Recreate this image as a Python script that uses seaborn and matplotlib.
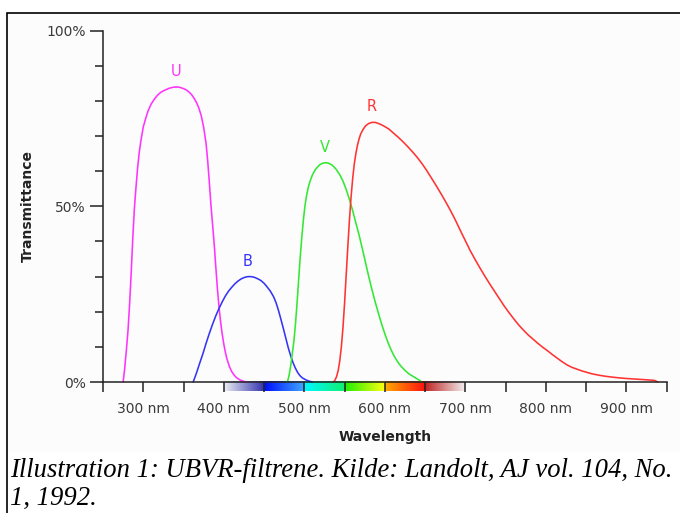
import numpy as np
import pandas as pd
import matplotlib
matplotlib.use("Agg")
import matplotlib.pyplot as plt
from matplotlib.patches import Rectangle
import seaborn as sns

# filter transmission curves (wavelength in nm, transmittance in %)
u_nm = [275, 277, 279, 281, 283, 285, 287, 289, 291, 293, 295, 297, 300, 303, 306, 310,
        314, 318, 322, 327, 332, 337, 341, 345, 349, 353, 357, 360, 363, 366, 369, 372,
        375, 378, 380, 382, 384, 386, 388, 390, 392, 394, 396, 398, 400, 402, 404, 407,
        410, 413, 416, 420, 424, 428]
u_val = [0, 4, 9, 14.5, 22, 31, 41, 49.5, 55.5, 61, 65.3, 68.6, 72.6, 75, 77.2, 79.2,
         80.6, 81.7, 82.5, 83.1, 83.6, 83.9, 84, 83.9, 83.6, 83.2, 82.5, 81.8, 80.8, 79.6,
         78, 75.8, 72.5, 67.9, 63, 57, 50.5, 45, 39.5, 33, 26.8, 21.5, 17.2, 13.7, 10.8,
         8.4, 6.5, 4.4, 2.9, 1.9, 1.2, 0.6, 0.25, 0]

b_nm = [362, 366, 370, 374, 378, 382, 386, 390, 394, 398, 402, 406, 410, 414, 418, 422,
        426, 430, 434, 438, 442, 446, 450, 454, 458, 462, 465, 468, 471, 474, 477, 480,
        483, 486, 489, 492, 495, 498, 502, 506, 510]
b_val = [0, 2.5, 5.3, 8, 11, 13.8, 16.4, 18.8, 20.9, 22.8, 24.5, 25.9, 27, 28, 28.8,
         29.4, 29.8, 30, 30, 29.8, 29.4, 28.9, 28.1, 27, 25.8, 24.2, 22.5, 20.3, 17.8,
         15.2, 12.5, 9.8, 7.5, 5.5, 3.9, 2.6, 1.7, 1.1, 0.6, 0.25, 0]

v_nm = [479, 481, 483, 485, 487, 489, 491, 493, 495, 497, 499, 501, 503, 505, 507, 510,
        513, 516, 519, 522, 525, 528, 531, 534, 537, 540, 544, 548, 552, 556, 560, 564,
        568, 572, 576, 580, 584, 588, 592, 596, 600, 604, 608, 612, 616, 620, 625, 630,
        635, 640, 643, 645.6]
v_val = [0, 1.8, 4.5, 8, 11.5, 16.5, 22.5, 29.3, 35.8, 41.5, 46.5, 50.5, 53.3, 55.5,
         57.1, 58.9, 60.2, 61.1, 61.8, 62.2, 62.4, 62.4, 62.2, 61.8, 61.2, 60.4, 59, 57.2,
         54.8, 52, 48.8, 45.3, 41.8, 38, 34, 30, 26.3, 22.8, 19.6, 16.5, 13.7, 11.2, 9,
         7.2, 5.7, 4.5, 3.3, 2.3, 1.6, 0.9, 0.5, 0]

r_nm = [536, 538, 540, 542, 544, 546, 548, 550, 552, 554, 556, 558, 560, 562, 564, 566,
        568, 570, 573, 576, 580, 584, 588, 592, 596, 600, 605, 610, 616, 622, 628, 634,
        640, 646, 652, 658, 664, 670, 676, 682, 688, 694, 700, 706, 712, 718, 724, 730,
        736, 742, 748, 754, 760, 766, 772, 778, 784, 790, 796, 802, 808, 814, 820, 826,
        832, 838, 844, 850, 856, 862, 868, 875, 882, 890, 900, 910, 920, 930, 935, 939]
r_val = [0, 0.5, 1.5, 3.2, 6, 10, 15.5, 22.5, 30.5, 38.5, 46, 52.5, 57.8, 62, 65, 67.4,
         69.2, 70.6, 71.9, 72.9, 73.6, 73.9, 73.9, 73.6, 73.2, 72.7, 72, 71, 69.8, 68.5,
         67.1, 65.6, 64, 62.2, 60.2, 58, 55.8, 53.5, 51.1, 48.6, 45.9, 43, 40.2, 37.4,
         34.9, 32.5, 30.2, 28, 25.9, 23.8, 21.7, 19.8, 18, 16.3, 14.8, 13.4, 12.2, 11,
         9.9, 8.9, 7.8, 6.8, 5.8, 4.9, 4.2, 3.7, 3.2, 2.8, 2.4, 2.1, 1.85, 1.6, 1.4, 1.2,
         1, 0.85, 0.7, 0.55, 0.45, 0]

filters = ["U", "B", "V", "R"]
filter_colors = {"U": "#ff33ff", "B": "#3535f5", "V": "#33e833", "R": "#ff3333"}

x_ticks = list(range(250, 951, 50))
x_labels = [f"{t} nm" if t % 100 == 0 else "" for t in x_ticks]
y_major = [0, 50, 100]
y_labels = ["0%", "50%", "100%"]
y_minor = list(range(10, 100, 10))

# colour strip under the axis, one gradient per 50 nm step
strip_edges = [400, 450, 500, 550, 600, 650, 700]
strip_colors = [("#ececf2", "#3434b0"), ("#0010ff", "#40a8ff"), ("#00f8ff", "#10f070"),
                ("#20f000", "#ffff10"), ("#ffa800", "#ff1010"), ("#c02828", "#f2f2f2")]

df = pd.concat([
    pd.DataFrame({"Wavelength": u_nm, "Transmittance": u_val, "Filter": "U"}),
    pd.DataFrame({"Wavelength": b_nm, "Transmittance": b_val, "Filter": "B"}),
    pd.DataFrame({"Wavelength": v_nm, "Transmittance": v_val, "Filter": "V"}),
    pd.DataFrame({"Wavelength": r_nm, "Transmittance": r_val, "Filter": "R"}),
], ignore_index=True)

sns.set_style("white")
plt.rcParams["font.family"] = ["DejaVu Sans"]

fig = plt.figure(figsize=(6.8, 5.13), dpi=100)
fig.patch.set_facecolor("white")

# light background of the chart picture above the caption
fig.add_artist(Rectangle((7.3 / 680, 1 - 452 / 513), 1.2, (452 - 12.7) / 513,
                         transform=fig.transFigure, facecolor="#fbfcfb", edgecolor="none",
                         zorder=-5))

ax = fig.add_axes([103 / 680, 1 - 382 / 513, (666.7 - 103) / 680, (382 - 30.7) / 513])
ax.set_facecolor("none")

sns.lineplot(data=df, x="Wavelength", y="Transmittance", hue="Filter", hue_order=filters,
             palette=filter_colors, estimator=None, sort=False, linewidth=1.15,
             legend=False, ax=ax)
for line in ax.lines:
    line.set_clip_on(False)
    line.set_solid_joinstyle("round")

# filter letters above each peak
for f in filters:
    sub = df[df["Filter"] == f]
    top = sub.loc[sub["Transmittance"].idxmax()]
    ax.text(top["Wavelength"], top["Transmittance"] + 2.3, f, color=filter_colors[f],
            ha="center", va="bottom", fontsize=10.5)

# spectrum strip
cols = []
for (c0, c1) in strip_colors:
    a = np.array(matplotlib.colors.to_rgb(c0))
    b = np.array(matplotlib.colors.to_rgb(c1))
    t = np.linspace(0, 1, 60)[:, None]
    cols.append(a * (1 - t) + b * t)
img = np.concatenate(cols)[None, :, :]
ax.imshow(img, extent=[strip_edges[0], strip_edges[-1], -2.7, 0], aspect="auto",
          interpolation="bilinear", clip_on=False, zorder=0.5)

ax.set_xlim(250, 950)
ax.set_ylim(0, 100)
ax.set_xticks(x_ticks)
ax.set_xticklabels(x_labels)
ax.set_yticks(y_major)
ax.set_yticklabels(y_labels)
ax.set_yticks(y_minor, minor=True)
ax.tick_params(axis="x", direction="out", length=7.5, width=1.1, color="#222222",
               labelsize=10, labelcolor="#3a3a3a", pad=7, bottom=True)
ax.tick_params(axis="y", which="major", direction="out", length=9.5, width=1.1,
               color="#222222", labelsize=10, labelcolor="#3a3a3a", pad=3, left=True)
ax.tick_params(axis="y", which="minor", direction="out", length=6, width=1.1,
               color="#222222", left=True)
for side in ["top", "right"]:
    ax.spines[side].set_visible(False)
for side in ["left", "bottom"]:
    ax.spines[side].set_color("#222222")
    ax.spines[side].set_linewidth(1.1)
ax.set_xlabel("")
ax.set_ylabel("")

fig.text(28 / 680, 1 - 206 / 513, "Transmittance", rotation=90, ha="center", va="center",
         fontsize=10, fontweight="bold", color="#222222")
fig.text(385 / 680, 1 - 437 / 513, "Wavelength", ha="center", va="center",
         fontsize=10, fontweight="bold", color="#222222")

cap = dict(family="Liberation Serif", style="italic", fontsize=19.2, color="black")
fig.text(10 / 680, 1 - 477 / 513, "Illustration 1: UBVR-filtrene. Kilde: Landolt, AJ vol. 104, No.",
         va="baseline", ha="left", **cap)
fig.text(10 / 680, 1 - 505 / 513, "1, 1992.", va="baseline", ha="left", **cap)

fig.add_artist(Rectangle((7.3 / 680, -0.1), 1.2, 1.1 - 12.7 / 513, transform=fig.transFigure,
                         fill=False, edgecolor="black", linewidth=1.2))

fig.savefig("out.png", dpi=100)
